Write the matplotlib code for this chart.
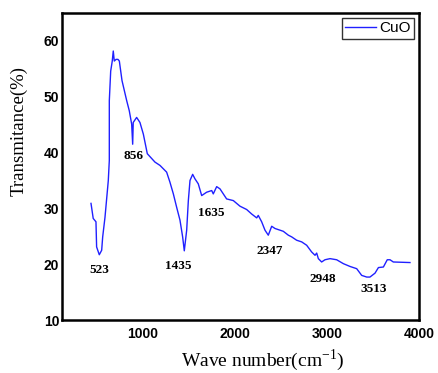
import matplotlib.pyplot as plt

plt.rcParams['mathtext.fontset'] = 'custom'
plt.rcParams['mathtext.rm'] = 'Liberation Serif'

# FTIR spectrum of CuO
wave = [435, 459, 489, 496, 525, 551, 562, 587, 623, 634, 634, 649, 666, 677, 688, 707,
        728, 743, 772, 823, 851, 877, 888, 894, 931, 967, 1004, 1047, 1130, 1185, 1257,
        1293, 1330, 1366, 1402, 1431, 1449, 1475, 1493, 1511, 1540, 1565, 1601, 1638,
        1692, 1747, 1764, 1801, 1837, 1909, 1982, 2054, 2127, 2181, 2236, 2253, 2290,
        2326, 2362, 2399, 2435, 2525, 2580, 2616, 2670, 2725, 2779, 2833, 2870, 2888,
        2906, 2942, 2978, 3033, 3105, 3178, 3250, 3323, 3377, 3432, 3467, 3522, 3559,
        3613, 3655, 3685, 3721, 3902]
trans = [30.9, 28.2, 27.6, 23.1, 21.7, 22.5, 24.9, 28.4, 35.0, 38.6, 49.3, 54.6, 56.4,
         58.2, 56.4, 56.7, 56.7, 56.4, 52.9, 49.3, 47.5, 45.1, 41.5, 45.4, 46.3, 45.4,
         43.3, 39.8, 38.3, 37.7, 36.5, 34.7, 32.6, 30.2, 27.9, 24.9, 22.4, 26.1, 31.4,
         35.0, 36.1, 35.3, 34.4, 32.3, 32.9, 33.2, 32.6, 33.9, 33.5, 31.7, 31.4, 30.4,
         29.8, 29.0, 28.3, 28.75, 27.6, 26.1, 25.2, 26.8, 26.4, 25.9, 25.2, 24.9, 24.3,
         24.0, 23.4, 22.2, 21.6, 22.0, 21.0, 20.4, 20.8, 21.0, 20.8, 20.1, 19.6, 19.2,
         18.0, 17.7, 17.7, 18.4, 19.4, 19.5, 20.8, 20.8, 20.4, 20.3]

peak_labels = ['856', '523', '1435', '1635', '2347', '2948', '3513']
peak_x = [902, 525, 1384, 1747, 2380, 2953, 3503]
peak_y = [39.4, 19.0, 19.6, 29.2, 22.3, 17.3, 15.5]

fig = plt.figure(figsize=(4.38, 3.73), dpi=100)
ax = fig.add_axes([0.1416, 0.142, 0.815, 0.823])

ax.plot(wave, trans, color='#2020ff', lw=1.0, label='CuO')

for lab, px, py in zip(peak_labels, peak_x, peak_y):
    ax.text(px, py, lab, ha='center', va='center', family='Liberation Serif',
            fontweight='bold', fontsize=9.5)

ax.set_xlim(120, 4000)
ax.set_ylim(10, 65)
ax.set_xticks([1000, 2000, 3000, 4000])
ax.set_yticks([10, 20, 30, 40, 50, 60])
ax.tick_params(length=0)
ax.tick_params(axis='x', pad=5)
ax.tick_params(axis='y', pad=2)
for t in ax.get_xticklabels() + ax.get_yticklabels():
    t.set_family('Liberation Sans')
    t.set_fontweight('bold')
    t.set_fontsize(10)
for s in ax.spines.values():
    s.set_linewidth(1.8)

ax.set_xlabel('Wave number(cm$^{\\mathrm{-1}}$)', family='Liberation Serif', fontsize=14)
ax.set_ylabel('Transmitance(%)', family='Liberation Serif', fontsize=13.5)
ax.xaxis.set_label_coords(0.563, -0.088)
ax.yaxis.set_label_coords(-0.095, 0.616)

leg = ax.legend(loc='upper right', fancybox=False, edgecolor='black', borderpad=0.25,
                handlelength=2.0, handletextpad=0.2, prop={'family': 'Liberation Sans', 'size': 11},
                borderaxespad=0.3)
leg.get_frame().set_linewidth(1.0)

plt.savefig('out.png', dpi=100)
